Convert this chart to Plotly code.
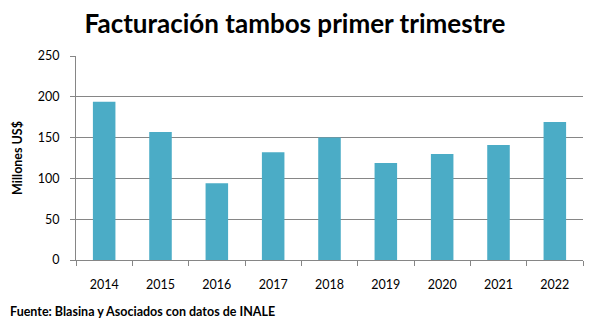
import plotly.graph_objects as go

years = ["2014", "2015", "2016", "2017", "2018", "2019", "2020", "2021", "2022"]
values = [194, 157, 94, 132, 150, 119, 130, 141, 169]
y_ticks = [0, 50, 100, 150, 200, 250]

FONT = "Lato, 'DejaVu Sans', sans-serif"
GRID = "#868686"

fig = go.Figure(go.Bar(x=years, y=values, marker=dict(color="#4BACC6", line=dict(width=0)),
                       width=0.4))

fig.update_layout(
    width=590, height=325,
    margin=dict(l=76, r=7, t=56, b=65),
    paper_bgcolor="white", plot_bgcolor="white",
    showlegend=False,
    font=dict(family=FONT, size=12, color="#000000"),
    title=dict(text="<b>Facturación tambos primer trimestre</b>", x=0.5, xanchor="center",
               y=1 - 24 / 325, yanchor="middle",
               font=dict(family=FONT, size=26, color="#000000")),
    xaxis=dict(type="category", showgrid=False, showline=True, linecolor=GRID, linewidth=1,
               ticks="outside", tickson="boundaries", ticklen=5, tickcolor=GRID,
               ticklabelstandoff=13,
               tickfont=dict(size=12.5, color="#000000")),
    yaxis=dict(range=[0, 250], tickvals=y_ticks, showgrid=True, gridcolor=GRID, gridwidth=1,
               showline=True, linecolor=GRID, linewidth=1, zeroline=False,
               ticks="outside", ticklen=5, tickcolor=GRID, ticklabelstandoff=8,
               tickfont=dict(size=12.5, color="#000000"),
               title=dict(text="<b>Millones US$</b>", font=dict(size=12.5, color="#000000"),
                          standoff=12)),
    bargap=0.6,
)

fig.add_annotation(text="<b>Fuente: Blasina y Asociados con datos de INALE</b>",
                   xref="paper", yref="paper", x=-76 / 507 + 8 / 507, y=-51 / 204,
                   xanchor="left", yanchor="middle", showarrow=False,
                   font=dict(family=FONT, size=12.5, color="#000000"))

fig.write_html("out.html")
